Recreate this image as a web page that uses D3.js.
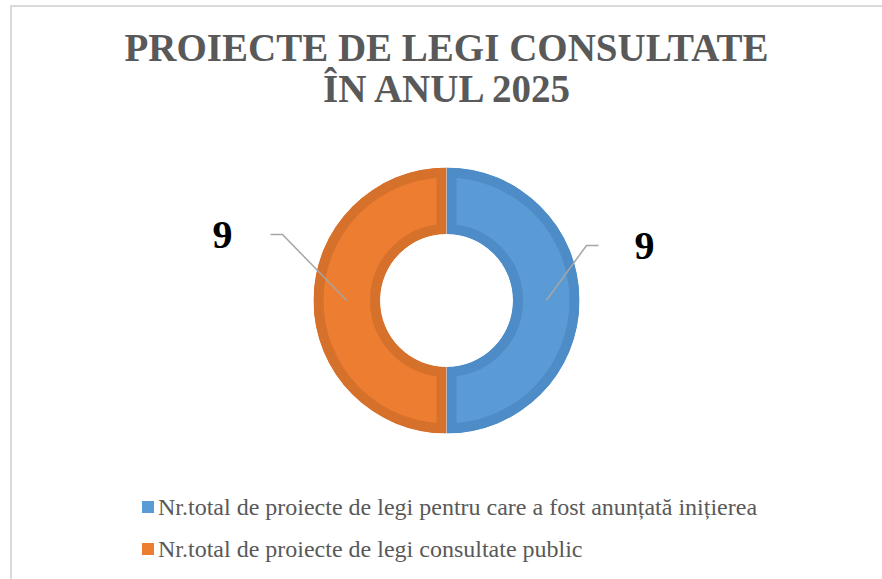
<!DOCTYPE html>
<html>
<head>
<meta charset="utf-8">
<script src="https://cdn.jsdelivr.net/npm/d3@7"></script>
<style>
  body { margin: 0; background: #fff; }
  svg { display: block; }
  text { font-family: "Liberation Serif", "Times New Roman", "DejaVu Serif", serif; }
</style>
</head>
<body>
<script>
// data
var titleLines = ["PROIECTE DE LEGI CONSULTATE", "ÎN ANUL 2025"];
var categories = [
  "Nr.total de proiecte de legi pentru care a fost anunțată inițierea",
  "Nr.total de proiecte de legi consultate public"
];
var values = [9, 9];
var colors = ["#5b9bd5", "#ed7d31"];
var rimColors = ["#4e8cc7", "#d6712c"];

// layout
var width = 882, height = 579;
var cx = 446.5, cy = 300.5, outerR = 133, innerR = 66.5;
// label anchor (end of horizontal leader segment) relative to centre
var labelAnchors = [{dx: 140, dy: -55, tx: 198}, {dx: -164, dy: -66, tx: -224}];

var svg = d3.select("body").append("svg")
    .attr("width", width)
    .attr("height", height);

// chart area border (cropped at right/bottom)
svg.append("rect")
    .attr("x", 11).attr("y", 6)
    .attr("width", width + 20).attr("height", height + 20)
    .attr("fill", "#fff")
    .attr("stroke", "#d9d9d9")
    .attr("stroke-width", 2);

// title
svg.append("g").selectAll("text")
    .data(titleLines)
  .enter().append("text")
    .attr("x", cx)
    .attr("y", function(d, i) { return 61 + i * 41; })
    .attr("text-anchor", "middle")
    .attr("font-weight", "bold")
    .attr("font-size", 39)
    .attr("fill", "#595959")
    .text(function(d) { return d; });

// donut
var pie = d3.pie().sort(null);
var arcs = pie(values);
var arc = d3.arc().innerRadius(innerR).outerRadius(outerR);
var midArc = d3.arc().innerRadius((innerR + outerR) / 2).outerRadius((innerR + outerR) / 2);

var g = svg.append("g").attr("transform", "translate(" + cx + "," + cy + ")");

var defs = svg.append("defs");
arcs.forEach(function(d, i) {
  defs.append("clipPath").attr("id", "clip" + i)
    .append("path").attr("d", arc(d));
});

g.selectAll(".slice")
    .data(arcs)
  .enter().append("path")
    .attr("class", "slice")
    .attr("d", arc)
    .attr("fill", function(d, i) { return colors[i]; })
    .attr("stroke", function(d, i) { return rimColors[i]; })
    .attr("stroke-width", 20)
    .attr("clip-path", function(d, i) { return "url(#clip" + i + ")"; });

// leader lines and labels
arcs.forEach(function(d, i) {
  var c = midArc.centroid(d);
  var a = labelAnchors[i];
  var dir = a.tx > 0 ? 1 : -1;
  var elbow = [a.dx, a.dy];
  var end = [a.dx + dir * 12, a.dy];
  g.append("polyline")
    .attr("points", [c, elbow, end].map(function(p) { return p.join(","); }).join(" "))
    .attr("fill", "none")
    .attr("stroke", "#a6a6a6")
    .attr("stroke-width", 1.5);
  g.append("text")
    .attr("x", a.tx)
    .attr("y", a.dy + 13)
    .attr("text-anchor", "middle")
    .attr("font-weight", "bold")
    .attr("font-size", 40)
    .attr("fill", "#000")
    .text(d.data);
});

// legend
var legend = svg.append("g").selectAll("g")
    .data(categories)
  .enter().append("g")
    .attr("transform", function(d, i) { return "translate(142," + (501 + i * 42) + ")"; });

legend.append("rect")
    .attr("width", 12).attr("height", 12)
    .attr("fill", function(d, i) { return colors[i]; });

legend.append("text")
    .attr("x", 16)
    .attr("y", 14)
    .attr("font-size", 24)
    .attr("fill", "#595959")
    .text(function(d) { return d; });
</script>
</body>
</html>
